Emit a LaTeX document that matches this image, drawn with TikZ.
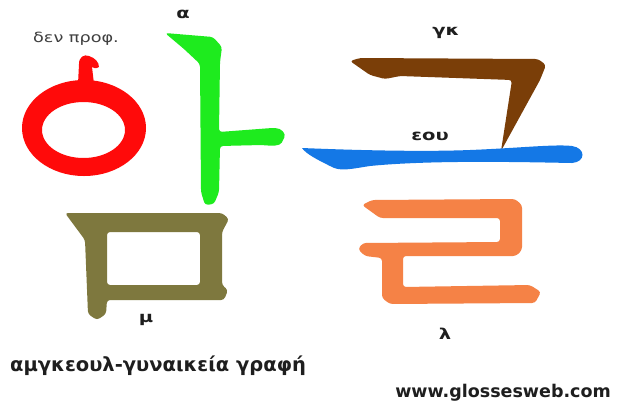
\documentclass[tikz,border=0pt]{standalone}
\usepackage{fontspec}
\usepackage{graphicx}
\setmainfont{DejaVu Sans}
\definecolor{cred}{RGB}{255,10,10}
\definecolor{cgreen}{RGB}{30,235,30}
\definecolor{cbrown}{RGB}{122,62,8}
\definecolor{cblue}{RGB}{20,120,230}
\definecolor{corange}{RGB}{245,130,70}
\definecolor{colive}{RGB}{126,120,62}
\definecolor{ctext}{RGB}{30,30,30}
\newcommand{\wide}[2]{\scalebox{#1}[1]{#2}}
\tikzset{
  lbl/.style={font=\fontsize{15}{15}\bfseries\selectfont, text=ctext, inner sep=0pt},
  small/.style={font=\fontsize{14}{14}\selectfont, text=ctext!85, inner sep=0pt},
  big/.style={font=\fontsize{19.5}{20}\bfseries\selectfont, text=ctext, inner sep=0pt, anchor=west},
}
\begin{document}
\begin{tikzpicture}[x=1pt,y=-1pt]
\useasboundingbox (0,0) rectangle (621,408);
\fill[white] (0,0) rectangle (621,408);
% red ieung ring
\fill[cred, even odd rule] (84,128) ellipse [x radius=62, y radius=48]
      (83.5,130) ellipse [x radius=41.5, y radius=28];
% red tip
\fill[cred] (78,84) -- (79,64) .. controls (79,57) and (84,54) .. (89,56)
  .. controls (95,58) and (99,62) .. (99,67)
  .. controls (96,69) and (93,68) .. (92,67) -- (94,84) -- cycle;
% green a
\fill[cgreen, rounded corners=3] (165,33) -- (213,37) -- (222,47) -- (220,62)
  -- (219,132) -- (272,128) .. controls (282,128) and (286,134) .. (283,140)
  .. controls (280,146) and (272,146) .. (262,145) -- (220,146)
  -- (219,192) -- (214,204) -- (205,205) -- (201,192) -- (200,64) -- (184,49) -- cycle;
% olive mieum
\fill[colive, even odd rule, rounded corners=3]
  (65,213) -- (222,213) -- (229,219) -- (222,232) -- (222,285) -- (228,290)
  -- (224,300) -- (107,300) -- (106,314) -- (97,320) -- (88,314) -- (85,240) -- cycle
  (107,232) -- (200,232) -- (200,285) -- (107,285) -- cycle;
% brown giyeok
\fill[cbrown, rounded corners=3] (350,61) -- (360,58) -- (538,59) -- (546,65)
  -- (540,80) -- (501,151) -- (512,80) -- (400,76) -- (385,79) -- (370,75) -- cycle;
% blue eu
\fill[cblue] (302,148) .. controls (350,150) and (420,152) .. (470,150)
  .. controls (520,148) and (555,144) .. (572,146)
  .. controls (586,148) and (586,162) .. (572,163)
  .. controls (520,162) and (430,160) .. (370,166)
  .. controls (350,169) and (340,172) .. (330,166)
  .. controls (318,160) and (306,154) .. (302,148) -- cycle;
% orange rieul
\fill[corange, rounded corners=3] (362,205) -- (372,200) -- (515,199) -- (522,205)
  -- (522,250) -- (516,256) -- (403,256) -- (403,287) -- (530,285)
  -- (541,292) -- (535,303) -- (390,304) -- (382,298) -- (382,258)
  -- (365,256) -- (358,249) -- (363,243) -- (500,242) -- (500,218)
  -- (380,218) -- cycle;
% texts
\node[small] (t1) at (76,39) {\wide{1.26}{δεν προφ.}};
\node[lbl] (ta) at (183,14) {\wide{1.3}{α}};
\node[lbl] (tgk) at (446,33) {\wide{1.3}{γκ}};
\node[lbl] (teou) at (430,136) {\wide{1.3}{εου}};
\node[lbl] (tm) at (146,320) {\wide{1.3}{μ}};
\node[lbl] (tl) at (445,334) {\wide{1.3}{λ}};
\node[big] (tb) at (10,366) {αμγκεουλ-γυναικεία γραφή};
\node[font=\fontsize{17.5}{18}\bfseries\selectfont, text=ctext, inner sep=0pt, anchor=east] (tw) at (611,393) {www.glossesweb.com};
\end{tikzpicture}
\end{document}
